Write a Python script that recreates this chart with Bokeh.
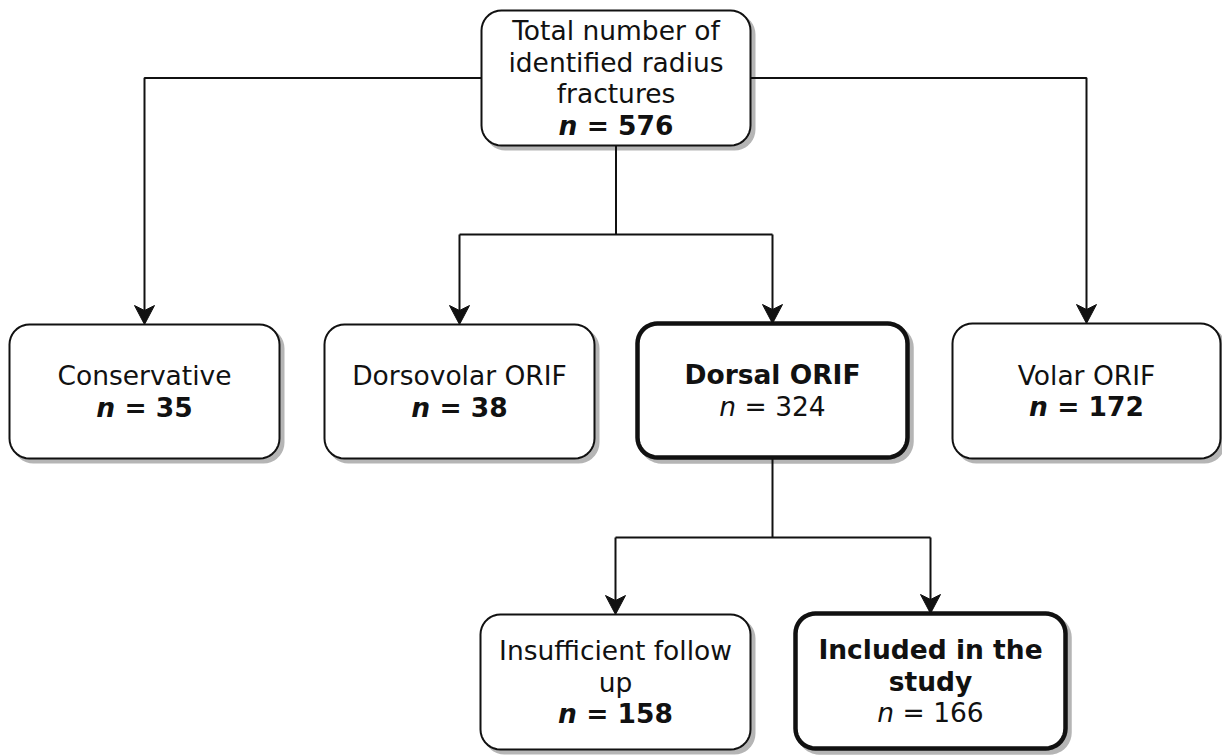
from bokeh.plotting import figure
from bokeh.models import Range1d
from bokeh.core.properties import value
from bokeh.embed import file_html
from bokeh.resources import INLINE
import numpy as np

# ---------------- data ----------------
box_lines = [
    ["Total number of", "identified radius", "fractures"],
    ["Conservative"],
    ["Dorsovolar ORIF"],
    ["Dorsal ORIF"],
    ["Volar ORIF"],
    ["Insufficient follow", "up"],
    ["Included in the", "study"],
]
counts = [576, 35, 38, 324, 172, 158, 166]
side_children = [(0, 1), (0, 4)]      # elbow connectors from top box sides
bus_children = [(0, [2, 3]), (3, [5, 6])]  # connectors via a horizontal bus

# ---------------- layout (image pixel units) ----------------
W_IMG, H_IMG = 1222, 756
cx = [615.5, 144, 459, 772, 1086, 615, 930]
cy = [77.5, 391, 391, 390, 390.5, 681.5, 680.5]
bw = [269, 270, 270, 270, 268, 270, 270]
bh = [135, 134, 134, 134, 135, 135, 135]
bold_box = [False, False, False, True, False, False, True]
bus_y = {0: 234, 3: 537}
FS = 26.5
LINE_H = 31.5
RADIUS = 20
SHADOW = 4

PW, PH = 1222, 756
sx = W_IMG / PW  # data units per screen pixel (x)

p = figure(width=PW, height=PH, x_range=Range1d(0, W_IMG), y_range=Range1d(H_IMG, 0),
           output_backend="svg", toolbar_location=None, x_axis_type=None, y_axis_type=None,
           min_border=0)
p.outline_line_color = None
p.background_fill_color = "white"
p.border_fill_color = "white"
p.grid.grid_line_color = None


def rrect(x0, y0, w, h, r, n=10):
    xs, ys = [], []
    corners = [(x0 + w / 2 - r, y0 - h / 2 + r, -np.pi / 2, 0),
               (x0 + w / 2 - r, y0 + h / 2 - r, 0, np.pi / 2),
               (x0 - w / 2 + r, y0 + h / 2 - r, np.pi / 2, np.pi),
               (x0 - w / 2 + r, y0 - h / 2 + r, np.pi, 1.5 * np.pi)]
    for (ccx, ccy, a0, a1) in corners:
        t = np.linspace(a0, a1, n)
        xs.extend(list(ccx + r * np.cos(t)))
        ys.extend(list(ccy + r * np.sin(t)))
    return xs, ys


LC = "#111111"
# connectors
seg_x, seg_y = [], []
arrows = []
for par, ch in side_children:
    side = -1 if cx[ch] < cx[par] else 1
    x_start = cx[par] + side * bw[par] / 2
    top = cy[ch] - bh[ch] / 2
    seg_x.append([x_start, cx[ch], cx[ch]])
    seg_y.append([cy[par], cy[par], top - 12])
    arrows.append((cx[ch], top))
for par, chs in bus_children:
    yb = bus_y[par]
    seg_x.append([cx[par], cx[par]])
    seg_y.append([cy[par] + bh[par] / 2, yb])
    seg_x.append([min(cx[c] for c in chs), max(cx[c] for c in chs)])
    seg_y.append([yb, yb])
    for c in chs:
        top = cy[c] - bh[c] / 2
        seg_x.append([cx[c], cx[c]])
        seg_y.append([yb, top - 12])
        arrows.append((cx[c], top))

# shadows
for i in range(len(cx)):
    xs, ys = rrect(cx[i] + SHADOW, cy[i] + SHADOW, bw[i], bh[i], RADIUS)
    p.patch(xs, ys, fill_color="#b5b5b5", line_color="#b5b5b5",
            line_width=4.5 if bold_box[i] else 2)

p.multi_line(seg_x, seg_y, line_color=LC, line_width=2)

# boxes
for i in range(len(cx)):
    xs, ys = rrect(cx[i], cy[i], bw[i], bh[i], RADIUS)
    p.patch(xs, ys, fill_color="white", line_color=LC,
            line_width=4.5 if bold_box[i] else 2)

# arrowheads
ax, ay = [], []
for (x, ytip) in arrows:
    ax.append([x, x - 10 * sx, x, x + 10 * sx])
    ay.append([ytip, ytip - 19, ytip - 14, ytip - 19])
p.patches(ax, ay, fill_color=LC, line_color=LC, line_width=1)

# texts
font = value("DejaVu Sans")
m_bold = dict(n=0.712, sp=0.348, eq=0.838, d=0.696)
m_reg = dict(n=0.634, sp=0.318, eq=0.838, d=0.636)

groups = {}  # (style, align) -> (xs, ys, texts)


def add(style, align, x, y, t):
    g = groups.setdefault((style, align), ([], [], []))
    g[0].append(x); g[1].append(y); g[2].append(t)


for i in range(len(cx)):
    lines = box_lines[i]
    nl = len(lines) + 1
    y0 = cy[i] - (nl - 1) * LINE_H / 2
    title_style = "bold" if bold_box[i] else "normal"
    for k, t in enumerate(lines):
        add(title_style, "center", cx[i], y0 + k * LINE_H, t)
    yn = y0 + (nl - 1) * LINE_H
    m = m_reg if bold_box[i] else m_bold
    rest = "= %d" % counts[i]
    wtot = (m["n"] + 2 * m["sp"] + m["eq"] + len(str(counts[i])) * m["d"]) * FS
    left = cx[i] - wtot / 2 * sx
    xn = left + m["n"] * FS * sx
    xr = xn + m["sp"] * FS * sx
    n_style = "italic" if bold_box[i] else "bold italic"
    r_style = "normal" if bold_box[i] else "bold"
    add(n_style, "right", xn, yn, "n")
    add(r_style, "left", xr, yn, rest)

for (style, align), (xs, ys, ts) in groups.items():
    p.text(x=xs, y=ys, text=ts, text_align=align, text_baseline="middle",
           text_font=font, text_font_size="%.1fpx" % FS, text_font_style=style,
           text_color=LC)

open("out.html", "w").write(file_html(p, INLINE))
